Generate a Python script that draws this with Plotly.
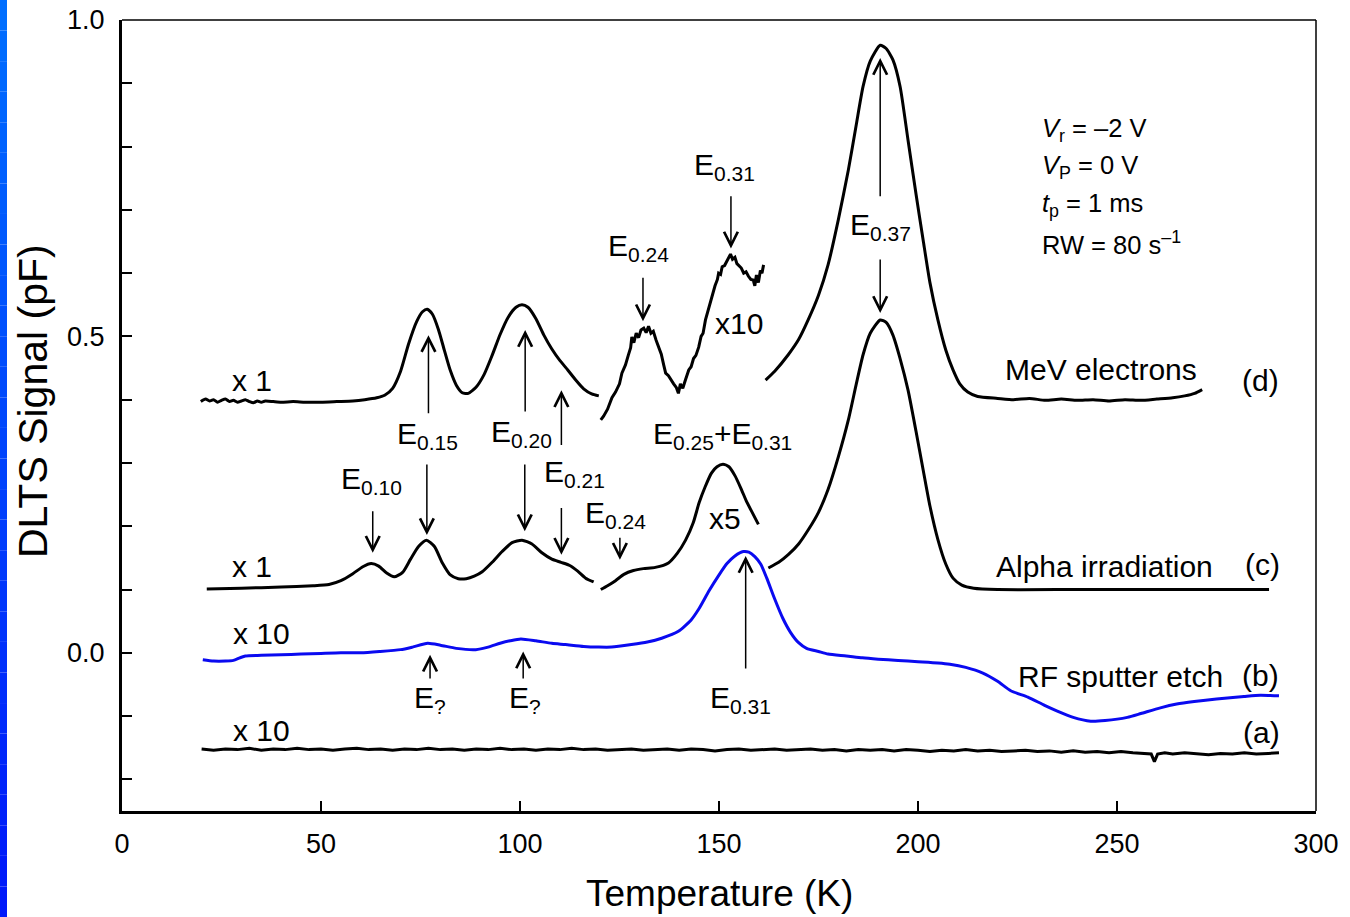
import plotly.graph_objects as go

FONT = "Liberation Sans, Arial, Helvetica, sans-serif"

# ---------------- data (Temperature K, DLTS signal pF) ----------------
# (d) MeV electrons, x1 part
d1_T = [19.8, 21, 22, 23, 24, 25, 26, 27, 28, 29, 30, 31, 32, 33, 34, 35, 36, 38, 40, 43, 46, 50, 54, 58,
        61, 64, 66, 68, 70, 72, 74, 75.5, 76.7, 78, 79.5, 81, 82.5, 84, 85.5, 87, 89, 91, 93, 95, 97, 99,
        100.5, 102, 104, 106, 108, 110, 112, 114, 116, 118, 119.8]
d1_v = [0.397, 0.401, 0.398, 0.400, 0.396, 0.399, 0.401, 0.397, 0.399, 0.396, 0.398, 0.400, 0.397, 0.395,
        0.398, 0.396, 0.398, 0.397, 0.396, 0.397, 0.396, 0.396, 0.397, 0.398, 0.400, 0.403, 0.407, 0.418,
        0.445, 0.488, 0.523, 0.539, 0.543, 0.535, 0.511, 0.478, 0.446, 0.423, 0.411, 0.410, 0.420, 0.440,
        0.470, 0.503, 0.530, 0.546, 0.550, 0.546, 0.528, 0.502, 0.480, 0.462, 0.447, 0.431, 0.417, 0.409,
        0.406]
# (d) x10 part
d2_T = [120.3, 121, 122, 123.1, 124, 125, 125.6, 126.5, 127.2, 127.8, 128.1, 128.6, 129.2, 129.8, 130.4,
        131.1, 131.7, 132.3, 132.9, 133.5, 134.2, 134.8, 135.5, 136.1, 136.6, 137.3, 138, 138.6, 139.3,
        139.8, 140.3, 140.9, 141.6, 142.4, 143, 143.6, 144.2, 144.9, 145.5, 146, 146.6, 147.2, 147.8,
        148.4, 149, 149.6, 149.9, 150.4, 150.8, 151.4, 152, 152.5, 152.9, 153.4, 154, 154.5, 155, 155.6,
        156.2, 156.8, 157.4, 158, 158.6, 159, 159.4, 159.9, 160.4, 160.8, 161.2]
d2_v = [0.368, 0.374, 0.385, 0.403, 0.412, 0.425, 0.442, 0.455, 0.470, 0.482, 0.499, 0.490, 0.505, 0.498,
        0.510, 0.513, 0.506, 0.516, 0.505, 0.508, 0.494, 0.483, 0.472, 0.455, 0.442, 0.438, 0.430, 0.425,
        0.419, 0.410, 0.425, 0.418, 0.432, 0.447, 0.452, 0.465, 0.470, 0.483, 0.500, 0.505, 0.526, 0.540,
        0.555, 0.568, 0.580, 0.590, 0.600, 0.598, 0.610, 0.612, 0.620, 0.625, 0.630, 0.622, 0.625, 0.615,
        0.612, 0.608, 0.600, 0.602, 0.595, 0.590, 0.589, 0.580, 0.597, 0.585, 0.604, 0.600, 0.613]
# (d) x1 part, high temperature
d3_T = [161.7, 164, 167.4, 170, 172.4, 175, 177.4, 180, 182.5, 184.5, 186.2, 188, 190.5, 192, 193.7,
        195.5, 197.5, 199.5, 201.3, 203, 205, 207, 208.8, 210.5, 212.5, 215, 220, 224, 228, 232, 236,
        240, 244, 248, 252, 256, 260, 264, 267, 269.5, 271.4]
d3_v = [0.431, 0.445, 0.471, 0.495, 0.526, 0.565, 0.613, 0.685, 0.763, 0.835, 0.895, 0.935, 0.960, 0.955,
        0.937, 0.895, 0.810, 0.725, 0.652, 0.585, 0.526, 0.478, 0.447, 0.425, 0.412, 0.405, 0.402, 0.400,
        0.402, 0.399, 0.401, 0.399, 0.400, 0.398, 0.400, 0.399, 0.401, 0.403, 0.406, 0.410, 0.416]

# (c) Alpha irradiation, x1 part
c1_T = [21.3, 30, 40, 48, 52, 55, 58, 60.5, 62.6, 64.5, 66.5, 68.4, 70.5, 72.5, 74.5, 76.5, 78.5, 80.5,
        82.5, 84.5, 86.5, 88.5, 90.5, 93, 95.5, 98, 100.5, 103, 105.5, 108, 110.3, 112.5, 114.5, 116.5, 118.5]
c1_v = [0.101, 0.102, 0.104, 0.106, 0.108, 0.114, 0.125, 0.136, 0.141, 0.137, 0.126, 0.120, 0.127, 0.148,
        0.168, 0.178, 0.168, 0.142, 0.123, 0.117, 0.117, 0.121, 0.128, 0.143, 0.160, 0.174, 0.178, 0.172,
        0.158, 0.148, 0.143, 0.138, 0.129, 0.118, 0.112]
# (c) x5 part
c2_T = [120.3, 122, 124, 126.1, 128.5, 131, 134, 137.3, 139.5, 141.6, 143.5, 145, 146.5, 148.1, 149.5,
        151, 152.5, 154, 155.5, 157, 158.5, 159.9]
c2_v = [0.100, 0.106, 0.114, 0.124, 0.130, 0.133, 0.135, 0.142, 0.157, 0.178, 0.205, 0.237, 0.262, 0.284,
        0.294, 0.298, 0.294, 0.280, 0.260, 0.238, 0.220, 0.203]
# (c) x1 part, high temperature
c3_T = [162.4, 165, 167.4, 170, 172.4, 175, 177.4, 180, 182.5, 184.5, 186.2, 188, 190.5, 192, 193.7, 195.5,
        197.5, 199.5, 201.3, 203, 205, 207, 208.8, 211, 214, 220, 240, 260, 280, 288.2]
c3_v = [0.134, 0.143, 0.155, 0.172, 0.194, 0.222, 0.258, 0.310, 0.368, 0.425, 0.471, 0.505, 0.526, 0.522,
        0.502, 0.465, 0.415, 0.350, 0.289, 0.232, 0.179, 0.140, 0.118, 0.107, 0.102, 0.100, 0.100, 0.100,
        0.100, 0.100]

# (b) RF sputter etch, x10
b_T = [20.3, 23, 26, 28, 29.6, 31, 35, 40, 45, 50, 55, 60, 64.7, 70, 73, 76.8, 80, 84, 88.9, 92, 95, 97.5,
       100.2, 104, 108, 111.4, 116, 119.8, 123, 128, 132, 135.6, 139.8, 143, 145, 147.5, 149.9, 152, 154,
       156.1, 157.5, 159, 160.5, 162, 164, 166, 168, 170, 172, 175, 177.4, 182, 186, 190, 195, 200, 205,
       208, 212, 216.3, 220, 223.3, 227.6, 231.8, 235, 239, 243.4, 247, 252.6, 256, 260.9, 265, 269.4,
       275, 281.9, 286, 290.7]
b_v = [-0.011, -0.013, -0.013, -0.012, -0.008, -0.005, -0.004, -0.003, -0.002, -0.001, 0.000, 0.000, 0.002,
       0.005, 0.009, 0.015, 0.012, 0.007, 0.005, 0.009, 0.015, 0.019, 0.022, 0.019, 0.015, 0.013, 0.010,
       0.009, 0.009, 0.013, 0.017, 0.023, 0.034, 0.052, 0.070, 0.098, 0.122, 0.141, 0.153, 0.160, 0.159,
       0.152, 0.140, 0.118, 0.085, 0.055, 0.032, 0.016, 0.007, 0.002, -0.002, -0.005, -0.008, -0.010,
       -0.012, -0.014, -0.016, -0.018, -0.023, -0.032, -0.045, -0.060, -0.070, -0.083, -0.092, -0.102,
       -0.108, -0.107, -0.102, -0.096, -0.087, -0.081, -0.077, -0.073, -0.069, -0.067, -0.068]

# (a) reference, x10
a_T = [20, 23, 26, 29, 32, 35, 38, 41, 44, 47, 50, 53, 56, 59, 62, 65, 68, 71, 74, 77, 80, 83, 86, 89, 92,
       95, 98, 101, 104, 107, 110, 113, 116, 119, 122, 125, 128, 131, 134, 137, 140, 143, 146, 149, 152,
       155, 158, 161, 164, 167, 170, 173, 176, 179, 182, 185, 188, 191, 194, 197, 200, 203, 206, 209, 212,
       215, 218, 221, 224, 227, 230, 233, 236, 239, 242, 245, 248, 251, 254, 257, 258.6, 259.4, 260.2, 262,
       264, 267, 270, 273, 276, 279, 282, 285, 288, 290.7]
a_v = [-0.152, -0.154, -0.152, -0.153, -0.151, -0.154, -0.152, -0.153, -0.151, -0.153, -0.152, -0.154,
       -0.152, -0.151, -0.153, -0.152, -0.154, -0.152, -0.153, -0.151, -0.153, -0.152, -0.154, -0.152,
       -0.153, -0.151, -0.153, -0.152, -0.154, -0.152, -0.153, -0.151, -0.153, -0.152, -0.154, -0.153,
       -0.152, -0.154, -0.153, -0.152, -0.154, -0.152, -0.153, -0.155, -0.153, -0.152, -0.154, -0.153,
       -0.152, -0.154, -0.153, -0.152, -0.154, -0.153, -0.155, -0.153, -0.154, -0.153, -0.155, -0.153,
       -0.154, -0.156, -0.154, -0.155, -0.153, -0.155, -0.154, -0.156, -0.155, -0.154, -0.156, -0.155,
       -0.157, -0.155, -0.157, -0.156, -0.158, -0.156, -0.158, -0.159, -0.160, -0.172, -0.160, -0.158,
       -0.160, -0.158, -0.159, -0.161, -0.159, -0.160, -0.158, -0.160, -0.159, -0.158]

# text labels: (text, T, value)
curve_labels = [
    ("x 1", 32.6, 0.431), ("x 1", 32.6, 0.136), ("x 10", 35.1, 0.030), ("x 10", 35.1, -0.123),
    ("E<sub>0.15</sub>", 76.7, 0.344), ("E<sub>0.20</sub>", 100.5, 0.346), ("E<sub>0.10</sub>", 62.7, 0.273),
    ("E<sub>0.21</sub>", 113.7, 0.283), ("E<sub>0.24</sub>", 124.0, 0.218),
    ("E<sub>0.25</sub>+E<sub>0.31</sub>", 151.0, 0.344), ("x5", 151.4, 0.212),
    ("E<sub>0.24</sub>", 129.8, 0.640), ("E<sub>0.31</sub>", 151.5, 0.768), ("x10", 154.9, 0.520),
    ("E<sub>0.37</sub>", 190.5, 0.673),
    ("E<sub>?</sub>", 77.3, -0.074), ("E<sub>?</sub>", 101.3, -0.074), ("E<sub>0.31</sub>", 155.3, -0.074),
    ("MeV electrons", 245.9, 0.447), ("(d)", 286.0, 0.431),
    ("Alpha irradiation", 246.8, 0.137), ("(c)", 286.6, 0.139),
    ("RF sputter etch", 250.8, -0.038), ("(b)", 286.1, -0.036),
    ("(a)", 286.3, -0.126),
]
param_lines = ["<i>V</i><sub>r</sub> = \u20132 V", "<i>V</i><sub>P</sub> = 0 V",
               "<i>t</i><sub>p</sub> = 1 ms", "RW = 80 s<sup>\u20131</sup>"]
param_T = 230.7
param_v = [0.826, 0.768, 0.708, 0.648]

# arrows: (T, tail value, tip value)
arrows = [
    (77.0, 0.376, 0.502), (101.3, 0.379, 0.510), (110.4, 0.326, 0.415),
    (110.4, 0.231, 0.155), (76.6, 0.300, 0.186), (101.2, 0.300, 0.192),
    (63.0, 0.226, 0.158), (125.1, 0.184, 0.147),
    (130.9, 0.595, 0.524), (153.0, 0.724, 0.639),
    (190.5, 0.719, 0.940), (190.5, 0.624, 0.537),
    (77.4, -0.043, -0.003), (100.8, -0.043, 0.002), (156.7, -0.027, 0.153),
]

x_ticks = [0, 50, 100, 150, 200, 250, 300]

# ---------------- figure ----------------
W, H = 1350, 917
ML, MR, MT, MB = 122, 34, 20, 106
PW, PH = W - ML - MR, H - MT - MB

fig = go.Figure()


def add(T, v, color="black", shape="spline"):
    fig.add_trace(go.Scatter(x=T, y=v, mode="lines", hoverinfo="skip", showlegend=False,
                             line=dict(color=color, width=3, shape=shape, smoothing=0.6)))


add(a_T, a_v, shape="linear")
add(b_T, b_v, color="#0a0af0")
add(c1_T, c1_v)
add(c2_T, c2_v)
add(c3_T, c3_v)
add(d1_T, d1_v)
add(d2_T, d2_v, shape="linear")
add(d3_T, d3_v)

ann = []
for txt, T, v in curve_labels:
    ann.append(dict(text=txt, x=T, y=v, xref="x", yref="y", showarrow=False,
                    xanchor="center", yanchor="middle", font=dict(family=FONT, size=30, color="black")))
for txt, v in zip(param_lines, param_v):
    ann.append(dict(text=txt, x=param_T, y=v, xref="x", yref="y", showarrow=False,
                    xanchor="left", yanchor="middle", font=dict(family=FONT, size=25.5, color="black")))
for T, tail, tip in arrows:
    ann.append(dict(text="", x=T, y=tip, ax=T, ay=tail, xref="x", yref="y", axref="x", ayref="y",
                    showarrow=True, arrowhead=5, arrowsize=1.8, arrowwidth=1.5, arrowcolor="black",
                    standoff=0, startstandoff=0))
# axis titles
ann.append(dict(text="Temperature (K)", x=0.5, y=0, xref="paper", yref="paper", showarrow=False,
                xanchor="center", yanchor="middle", yshift=-(893 - (H - MB)),
                font=dict(family=FONT, size=37, color="black")))
ann.append(dict(text="DLTS Signal (pF)", x=0, y=(H - MB - 401) / PH, xref="paper", yref="paper",
                showarrow=False, textangle=-90, xanchor="center", yanchor="middle", xshift=-(ML - 33),
                font=dict(family=FONT, size=41, color="black")))

shapes = [
    dict(type="line", xref="paper", yref="paper", x0=0, x1=1, y0=1, y1=1, line=dict(color="black", width=1.5)),
    dict(type="line", xref="paper", yref="paper", x0=1, x1=1, y0=0, y1=1, line=dict(color="black", width=1.5)),
]
# blue gradient strip at the left edge of the page
nb = 30
for i in range(nb):
    f = i / (nb - 1)
    r, g, b = 0, int(110 - 85 * f), int(255 - 5 * f)
    ytop = 1 + MT / PH - (H / PH) * i / nb
    ybot = 1 + MT / PH - (H / PH) * (i + 1) / nb
    shapes.append(dict(type="rect", xref="paper", yref="paper", x0=-ML / PW, x1=(-ML + 7) / PW,
                       y0=ybot, y1=ytop, line=dict(width=0), fillcolor=f"rgb({r},{g},{b})", layer="above"))

fig.update_layout(
    width=W, height=H, margin=dict(l=ML, r=MR, t=MT, b=MB, autoexpand=False),
    paper_bgcolor="white", plot_bgcolor="white",
    font=dict(family=FONT, color="black"),
    annotations=ann, shapes=shapes, showlegend=False,
    xaxis=dict(range=[0, 300], tickvals=x_ticks, ticks="inside", ticklen=10, tickwidth=1.5,
               tickcolor="black", showline=True, linewidth=3, linecolor="black", mirror=False,
               showgrid=False, zeroline=False, tickfont=dict(family=FONT, size=27, color="black"),
               ticklabelstandoff=7),
    yaxis=dict(range=[-0.25, 1.0], tick0=0, dtick=0.5, tickformat=".1f", ticks="inside", ticklen=10,
               tickwidth=1.5, tickcolor="black", showline=True, linewidth=3, linecolor="black",
               mirror=False, showgrid=False, zeroline=False,
               minor=dict(dtick=0.1, tick0=0, ticks="inside", ticklen=10, tickwidth=1.5, tickcolor="black",
                          showgrid=False),
               tickfont=dict(family=FONT, size=27, color="black"), ticklabelstandoff=9),
)

fig.write_html("out.html", config={"displayModeBar": False},
               post_script="document.body.style.margin='0px';document.body.style.overflow='hidden';")
